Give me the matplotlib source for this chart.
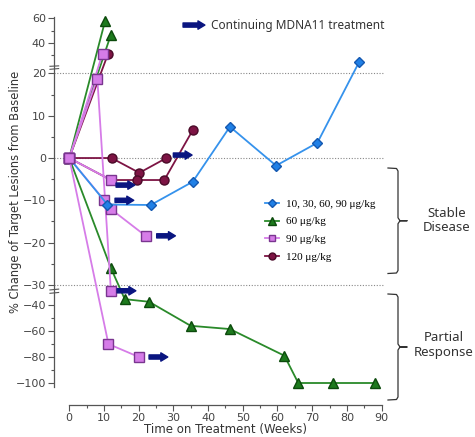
import numpy as np
import matplotlib
matplotlib.use("Agg")
import matplotlib.pyplot as plt
import matplotlib.transforms as mtransforms
from matplotlib.lines import Line2D

# ---- data (weeks, % change) ----
blue_weeks = [0, 11, 23.5, 35.6, 46.3, 59.6, 71.5, 83.5]
blue_pct = [0, -11, -11.1, -5.6, 7.4, -1.8, 3.6, 24]

green_traces = [
    ([0, 10.3], [0, 57.5]),
    ([0, 12], [0, 46.5]),
    ([0, 12, 16, 23, 35, 46.3, 62, 66, 76, 88],
     [0, -26, -35.5, -37.5, -56, -58.5, -79, -100, -100, -100]),
]

purple_traces = [
    ([0, 9.6], [0, 31]),
    ([0, 8.1, 12], [0, 18.8, -30.7]),
    ([0, 12], [0, -5.2]),
    ([0, 10.1, 11.9, 22], [0, -10, -12, -18.4]),
    ([0, 11.3, 20.1], [0, -70, -80]),
]

maroon_traces = [
    ([0, 11.2], [0, 31]),
    ([0, 12.2, 20.2, 28], [0, 0, -3.5, 0]),
    ([0, 12, 19.4, 27.4, 35.6], [0, -5.2, -5.2, -5.2, 6.6]),
]

# "continuing treatment" arrows: start week, % change
arrow_weeks = [30, 13.5, 13.2, 25.2, 13.8, 23]
arrow_pct = [0.7, -6.4, -10, -18.4, -30.7, -80]

legend_labels = ["10, 30, 60, 90 \u03bcg/kg", "60 \u03bcg/kg", "90 \u03bcg/kg", "120 \u03bcg/kg"]

BLUE = "#3592ec"
GREEN = "#1d7a1d"
PURPLE = "#d67ce8"
MAROON = "#7d1444"
NAVY = "#0a1580"
GRAY = "#555555"

# broken y axis: piecewise linear mapping (value -> pixels)
yv = [-1000, -100, -31, -30, 20, 21, 60, 1000]
yu = [-225 - 900 * 1.3, -225, -135.3, -126.9, 84.6, 92.1, 139.7, 139.7 + 940 * 1.22]


def fwd(v):
    return np.interp(v, yv, yu)


def inv(u):
    return np.interp(u, yu, yv)


W, H = 475, 437
fig = plt.figure(figsize=(W / 100, H / 100), dpi=100)
ax = fig.add_axes([54.3 / W, (H - 405.1) / H, 334.2 / W, 389.2 / H])
ax.set_yscale("function", functions=(fwd, inv))
ax.set_xlim(-4.3, 92)
ax.set_ylim(-117, 62)

plt.rcParams["font.family"] = "Liberation Sans"

# reference dotted lines
for yy in [20, 0, -30]:
    ax.hlines(yy, -4.3, 90.3, colors="#888888", linestyles=(0, (1, 1.5)), lw=0.8, zorder=1)

kw = dict(lw=1.3, ms=6.5, zorder=3)
for wk, pc in green_traces:
    ax.plot(wk, pc, color="#2a8a2a", marker="^", mfc=GREEN, mec="#0c4a0c", **kw)
for wk, pc in maroon_traces:
    ax.plot(wk, pc, color=MAROON, marker="o", mfc=MAROON, mec="#4a0a28", **kw)
for wk, pc in purple_traces:
    ax.plot(wk, pc, color=PURPLE, marker="s", mfc=PURPLE, mec="#7a3590", **kw)
ax.plot(blue_weeks, blue_pct, color=BLUE, marker="D", ms=5.5, mfc="#2080e6", mec="#1458b0",
        lw=1.3, zorder=3)

# origin marker on top (purple square)
ax.plot([0], [0], marker="s", ms=6.5, mfc=PURPLE, mec="#7a3590", zorder=4)

arrow_style = "simple,head_length=0.5,head_width=0.6,tail_width=0.3"
for x0, y0 in zip(arrow_weeks, arrow_pct):
    ax.annotate("", xy=(x0 + 5.4, y0), xytext=(x0, y0),
                arrowprops=dict(arrowstyle=arrow_style, color=NAVY, shrinkA=0, shrinkB=0),
                zorder=5)
ax.annotate("", xy=(39.1, 54.5), xytext=(32.8, 54.5),
            arrowprops=dict(arrowstyle=arrow_style, color=NAVY, shrinkA=0, shrinkB=0))
ax.text(40.8, 54.5, "Continuing MDNA11 treatment", fontsize=8.5, family="Noto Sans",
        color="#333333", va="center", ha="left")

# axes styling
for s in ["top", "right"]:
    ax.spines[s].set_visible(False)
ax.spines["left"].set_bounds(-103, 61)
ax.spines["bottom"].set_bounds(0, 90)
for s in ["left", "bottom"]:
    ax.spines[s].set_color(GRAY)
    ax.spines[s].set_linewidth(0.9)

ax.set_yticks([-100, -80, -60, -40, -30, -20, -10, 0, 10, 20, 40, 60])
ax.set_yticks([-90, -70, -50, -25, -15, -5, 5, 15, 30, 50], minor=True)
ax.set_xticks(np.arange(0, 91, 10))
ax.set_xticks(np.arange(5, 90, 10), minor=True)
ax.tick_params(which="major", length=4, width=0.8, color=GRAY, labelcolor="#444444",
               labelsize=8, pad=2)
ax.tick_params(which="minor", length=2.5, width=0.8, color=GRAY)

ax.set_ylabel("% Change of Target Lesions from Baseline", fontsize=8.3, color="#333333")
ax.yaxis.set_label_coords(-0.098, 0.548)
ax.set_xlabel("Time on Treatment (Weeks)", fontsize=8.5, color="#333333")
ax.xaxis.set_label_coords(0.512, -0.047)

# axis break marks
bt = mtransforms.blended_transform_factory(ax.transAxes, ax.transData)
for ya, yb in [(20.6, 21.0), (-30.55, -30.95)]:
    for yy in (ya, yb):
        ax.plot([-0.013, 0.013], [yy - 0.05, yy + 0.05], transform=bt, color=GRAY,
                lw=0.8, clip_on=False, zorder=6)

# legend
handles = [
    Line2D([], [], color=BLUE, marker="D", ms=4.5, mfc="#2080e6", mec="#1458b0", lw=1.3),
    Line2D([], [], color="#2a8a2a", marker="^", ms=5.5, mfc=GREEN, mec="#0c4a0c", lw=1.3),
    Line2D([], [], color=PURPLE, marker="s", ms=5, mfc=PURPLE, mec="#7a3590", lw=1.3),
    Line2D([], [], color=MAROON, marker="o", ms=5, mfc=MAROON, mec="#4a0a28", lw=1.3),
]
fig.legend(handles, legend_labels, loc="upper left", bbox_to_anchor=(259 / W, 1 - 193.5 / H),
           frameon=False, prop=dict(family="Liberation Serif", size=8),
           handlelength=1.3, handletextpad=0.6, labelspacing=0.7, borderpad=0)


# brackets on the right, drawn in pixel coordinates
def px(x, y):
    return x / W, 1 - y / H


def bracket(top, bot, x0=388, x1=398):
    mid = (top + bot) / 2
    pts = [(x0, top), (x1 - 1.5, top + 0.5), (x1, top + 3), (x1, mid - 3), (x1 + 2, mid),
           (x1 + 9, mid), (x1 + 2, mid), (x1, mid + 3), (x1, bot - 3), (x1 - 1.5, bot - 0.5),
           (x0, bot)]
    xs, ys = zip(*[px(a, b) for a, b in pts])
    fig.add_artist(Line2D(xs, ys, color="#333333", lw=0.9, transform=fig.transFigure))


bracket(168, 273.5)
bracket(294, 400)
fig.text(*px(446.5, 220.5), "Stable\nDisease", fontsize=9.5, family="Noto Sans",
         color="#333333", ha="center", va="center", linespacing=1.15)
fig.text(*px(443.5, 345), "Partial\nResponse", fontsize=9.5, family="Noto Sans",
         color="#333333", ha="center", va="center", linespacing=1.15)

fig.savefig("out.png", dpi=100)
